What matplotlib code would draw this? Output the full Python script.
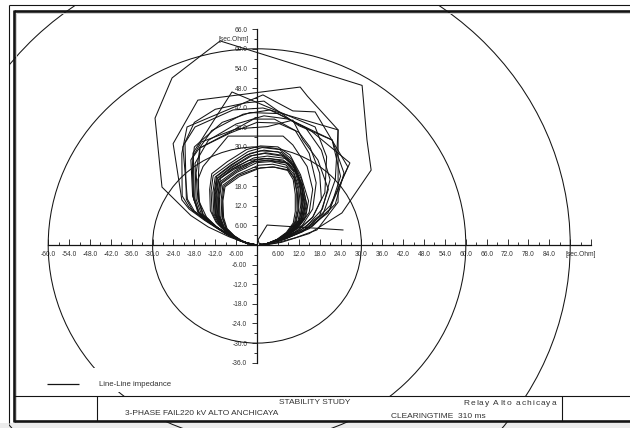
import matplotlib
matplotlib.use("Agg")
import matplotlib.pyplot as plt
import matplotlib.patches as mpatches
import matplotlib.transforms as mtransforms
from matplotlib.lines import Line2D
from matplotlib.font_manager import FontProperties, findfont

plt.rcParams['font.family'] = ['Liberation Sans', 'DejaVu Sans']

# ---------------------------------------------------------------- data
# R-X plane, secondary ohms
X_VIEW = (-73.85, 107.18)
Y_VIEW = (-55.96, 74.92)

circle_radii = [30, 60, 90]

x_major = [-60, -54, -48, -42, -36, -30, -24, -18, -12, -6,
           6, 12, 18, 24, 30, 36, 42, 48, 54, 60, 66, 72, 78, 84, 90, 96]
x_major_labels = ['-60.0', '-54.0', '-48.0', '-42.0', '-36.0', '-30.0', '-24.0',
                  '-18.0', '-12.0', '-6.00', '6.00', '12.0', '18.0', '24.0',
                  '30.0', '36.0', '42.0', '48.0', '54.0', '60.0', '66.0', '72.0',
                  '78.0', '84.0', '', '']
x_minor = [-57, -51, -45, -39, -33, -27, -21, -15, -9, -3, 3, 9, 15, 21, 27,
           33, 39, 45, 51, 57, 63, 69, 75, 81, 87, 93]
y_major = [-36, -30, -24, -18, -12, -6, 6, 12, 18, 24, 30, 36, 42, 48, 54, 60, 66]
y_major_labels = ['-36.0', '-30.0', '-24.0', '-18.0', '-12.0', '-6.00', '6.00',
                  '12.0', '18.0', '24.0', '30.0', '36.0', '42.0', '48.0', '54.0',
                  '60.0', '66.0']
y_minor = [-33, -27, -21, -15, -9, -3, 3, 9, 15, 21, 27, 33, 39, 45, 51, 57, 63]
unit_label = '[sec.Ohm]'

# impedance trajectories seen by the relay (R, X) during the swing
swing_outer = [(0, 0), (-3, 0.5), (-8, 2.5), (-14, 5.5), (-19, 9), (-27.3, 17.7),
               (-29.3, 38.8), (-24.4, 51.1), (-10.6, 62.4), (30.2, 48.8),
               (31.6, 32.1), (32.8, 22.9), (24.4, 9.8), (15, 3.5), (7, 0.8), (2, 0)]
swing_tail = [(24.7, 4.6), (2.9, 6.1), (0.3, 1.6), (0.6, 0.5), (3.5, 0.1)]

swing_m01 = [(0, 0), (-3, 0.6), (-7, 2.4), (-11, 5), (-14.5, 8.5), (-16.5, 13),
             (-17, 20), (-15.5, 24), (-8.3, 33.3), (7.5, 33.3), (10.3, 30.6),
             (14.4, 24), (16, 17), (15, 10), (12, 5.5), (8, 2.5), (4, 0.7), (1, 0)]
swing_m02 = [(0, 0), (-3, 0.6), (-7.5, 2.6), (-12, 5.5), (-15.5, 9), (-17, 14),
             (-17.5, 22), (-16.4, 29.7), (-7.8, 34.5), (-1, 38.5), (5, 38.5),
             (11, 35), (15, 28), (17, 19), (16, 11), (13, 6), (8.5, 2.8), (4, 0.7), (1, 0)]
swing_m03 = [(0, 0), (-3.2, 0.7), (-8, 3), (-13, 6.5), (-17, 10), (-18.4, 15),
             (-18.4, 28.1), (-7.2, 46.8), (16.7, 36.1), (20, 27), (19.5, 16),
             (16, 8.5), (11, 4), (5.5, 1.2), (1.5, 0.1)]
swing_m04 = [(0, 0), (-3.5, 0.8), (-9, 3.4), (-15, 7.5), (-19.5, 11), (-21.6, 13.8),
             (-24.1, 31), (-17, 44.3), (12.4, 48.3), (14.5, 45.5), (23.3, 35.2),
             (23.3, 13.1), (17.2, 4.6), (11, 2.2), (5, 0.5), (1, 0)]
swing_m05 = [(0, 0), (-3.3, 0.7), (-8.5, 3.2), (-14, 7), (-18.5, 10.5), (-20.3, 14),
             (-20.7, 31.2), (-17.8, 36.1), (-6.9, 41.3), (1.7, 41.9), (23.3, 35.2),
             (22.5, 20), (19, 9.5), (13, 4.2), (7, 1.6), (2, 0.1)]
swing_m06 = [(0, 0), (-3.4, 0.8), (-9, 3.5), (-15, 7.8), (-19.5, 11.5), (-21.5, 15),
             (-21.6, 28), (-20.1, 36.1), (1.7, 45.9), (10.3, 41), (16.7, 40.7),
             (26.1, 23.9), (20.4, 9.8), (13, 4), (6, 1), (1.5, 0)]
swing_m07 = [(0, 0), (-3, 0.6), (-7.5, 2.7), (-12, 5.8), (-15.5, 9.5), (-16.8, 14),
             (-16.8, 22), (-16.4, 29.7), (-7.8, 34.2), (0, 37.5), (6, 37.3),
             (12, 34.5), (15.2, 30), (18, 22), (18.5, 14), (16, 8.5), (12, 4.6),
             (7, 1.8), (2.5, 0.2)]
swing_m08 = [(0, 0), (-3.3, 0.7), (-8.3, 3.1), (-13.5, 6.8), (-18, 10.4), (-20, 14),
             (-21.3, 30), (-18, 37.5), (-12, 41.5), (-3, 43.5), (2, 44), (12, 36.5),
             (21.6, 32.1), (24, 21), (21, 11), (15, 5), (8, 1.8), (2, 0.1)]
swing_m09 = [(0, 0), (-3.1, 0.6), (-7.8, 2.8), (-12.5, 6), (-16.5, 9.6), (-18.2, 14),
             (-18.6, 24), (-18, 30), (-10, 37.5), (-2, 40.5), (6, 40.2), (14, 35.8),
             (18.5, 29), (21, 20), (18.8, 11), (14, 5.5), (8, 2), (2.5, 0.2)]
swing_m10 = [(0, 0), (-3.2, 0.7), (-8.2, 3), (-13, 6.6), (-16.8, 10), (-18.5, 15),
             (-19, 26), (-16, 31.5), (-6, 35.5), (3, 36.2), (10.3, 38.2), (13.2, 32.1),
             (17.5, 26), (20.5, 17), (18, 9), (12.5, 4.5), (6.5, 1.5), (1.8, 0.1)]
swing_m11 = [(0, 0), (-3, 0.6), (-7.6, 2.7), (-12.2, 5.9), (-16, 9.5), (-17.5, 14),
             (-17.8, 25), (-14, 32), (-6, 37), (2, 39.5), (9, 38.5), (15.2, 35.2),
             (26.7, 25.1), (21, 12), (14.5, 5.2), (8, 1.9), (2.2, 0.1)]
swing_m12 = [(0, 0), (-3.1, 0.7), (-8, 2.9), (-12.8, 6.3), (-16.6, 9.8), (-18, 14.5),
             (-18.3, 27), (-13, 35), (-4, 40), (3.7, 41.3), (21.6, 32.1), (25, 22),
             (22.5, 12.5), (16, 5.8), (8.5, 2), (2.3, 0.1)]

swing_i01 = [(0, 0), (-2.6, 0.4), (-5.6, 1.6), (-8.6, 3.7), (-11.4, 6.6), (-12.9, 10),
             (-13.2, 16.5), (-12.6, 21.2), (-8, 24.8), (-2.5, 28.6), (1.5, 29.8),
             (6.5, 29.2), (10, 26.2), (12.8, 20), (14.2, 12.5), (13.4, 8.2),
             (10.8, 4.8), (7.2, 2.2), (3.6, 0.6), (1, 0)]
swing_i02 = [(0, 0), (-2.5, 0.4), (-5.4, 1.5), (-8.3, 3.5), (-11, 6.3), (-12.4, 9.6),
             (-12.7, 16), (-12, 20.8), (-7.5, 24.5), (-2, 28), (2, 29), (7, 28.3),
             (10.3, 25.3), (12.5, 19.5), (13.6, 12.5), (12.8, 8), (10.3, 4.6),
             (6.9, 2.1), (3.4, 0.6), (0.9, 0)]
swing_i03 = [(0, 0), (-2.4, 0.4), (-5.2, 1.5), (-8, 3.4), (-10.6, 6.1), (-11.9, 9.4),
             (-12.2, 15.5), (-11.5, 20.2), (-7, 23.8), (-1.5, 27.3), (2.5, 28.2),
             (7.5, 27.4), (10.5, 24.3), (12.3, 18.8), (13, 12), (12.2, 7.8),
             (9.8, 4.5), (6.6, 2), (3.3, 0.5), (0.9, 0)]
swing_i04 = [(0, 0), (-2.3, 0.4), (-5, 1.4), (-7.7, 3.2), (-10.2, 5.8), (-11.5, 9.2),
             (-11.8, 15), (-11.2, 19.8), (-6.8, 23.4), (-1, 26.6), (3, 27.2),
             (8, 26.5), (11, 23.5), (12.8, 18), (13.8, 11.5), (13, 7.5), (10.4, 4.3),
             (7, 1.9), (3.5, 0.5), (1, 0)]
swing_i05 = [(0, 0), (-2.2, 0.4), (-4.8, 1.4), (-7.4, 3.1), (-9.8, 5.6), (-11.1, 9),
             (-11.3, 14.5), (-10.7, 19.3), (-6.2, 22.8), (-0.5, 26), (3.5, 26.5),
             (8, 25.5), (10.5, 22.5), (12, 17.5), (12.5, 11.5), (11.8, 7.4),
             (9.5, 4.2), (6.4, 1.9), (3.2, 0.5), (0.9, 0)]
swing_i06 = [(0, 0), (-2.1, 0.3), (-4.6, 1.3), (-7.1, 3), (-9.4, 5.4), (-10.6, 8.8),
             (-10.8, 14), (-10.2, 18.8), (-5.8, 22.2), (0, 25.2), (4, 25.5),
             (8.3, 24.5), (10.6, 21.6), (11.8, 17), (12, 11), (11.3, 7.1), (9.1, 4),
             (6.1, 1.8), (3, 0.5), (0.8, 0)]
swing_i07 = [(0, 0), (-2.2, 0.4), (-4.7, 1.4), (-7.3, 3.1), (-9.6, 5.6), (-10.9, 9),
             (-11.2, 15.5), (-10.5, 20.5), (-6.5, 23.2), (-1.5, 25.5), (3, 25.8),
             (9, 25), (11.5, 21.8), (13, 17), (13.3, 11), (12.5, 7.2), (10, 4.1),
             (6.7, 1.8), (3.3, 0.5), (0.9, 0)]
swing_i08 = [(0, 0), (-2, 0.3), (-4.4, 1.3), (-6.8, 2.9), (-9, 5.2), (-10.1, 8.6),
             (-10.3, 13.8), (-9.8, 18.3), (-5.5, 21.6), (0.5, 24.4), (4.5, 24.7),
             (8.6, 23.7), (10.6, 20.8), (11.4, 16.2), (11.5, 10.6), (10.8, 6.9),
             (8.7, 3.9), (5.9, 1.7), (2.9, 0.4), (0.8, 0)]
swing_i09 = [(0, 0), (-1.9, 0.3), (-4.2, 1.2), (-6.5, 2.8), (-8.6, 5), (-9.6, 8.4),
             (-9.8, 13.5), (-9.2, 17.8), (-5, 21), (1, 23.6), (5, 23.8), (8.8, 22.8),
             (10.4, 20), (11, 15.5), (11, 10.2), (10.4, 6.7), (8.4, 3.8), (5.7, 1.7),
             (2.8, 0.4), (0.8, 0)]
swing_i10 = [(0, 0), (-2.7, 0.5), (-5.8, 1.7), (-8.9, 3.9), (-11.8, 7), (-13.4, 10.5),
             (-13.6, 17), (-13, 21.8), (-8.5, 25.5), (-3, 29.2), (1, 30.3), (6, 30),
             (9.5, 27.5), (12.5, 21.5), (14.8, 13.5), (14, 8.6), (11.3, 5), (7.5, 2.3),
             (3.8, 0.6), (1, 0)]
swing_i11 = [(0, 0), (-2.3, 0.4), (-4.9, 1.4), (-7.6, 3.2), (-10, 5.8), (-11.3, 9.2),
             (-11.6, 15), (-11, 20), (-7.2, 23.2), (-2.5, 25.8), (2, 26.5), (7.5, 26),
             (10.8, 23.4), (13, 18.5), (14.4, 12), (13.6, 7.8), (10.9, 4.5), (7.3, 2),
             (3.6, 0.5), (1, 0)]
swing_i12 = [(0, 0), (-1.9, 0.3), (-4.3, 1.2), (-6.6, 2.8), (-8.8, 5.1), (-9.9, 8.5),
             (-10, 13.6), (-9.5, 18), (-5.4, 21.3), (0, 23.4), (4.5, 23.9), (9, 23),
             (10.8, 20.2), (11.6, 15.8), (11.8, 10.4), (11, 6.8), (8.8, 3.9), (6, 1.7),
             (3, 0.4), (0.8, 0)]
swing_i13 = [(0, 0), (-2.5, 0.4), (-5.3, 1.5), (-8.2, 3.5), (-10.8, 6.2), (-12.1, 9.5),
             (-12.3, 16.2), (-11.6, 21), (-7.8, 24), (-3, 27.5), (1, 28.8), (6, 28.5),
             (9.6, 25.8), (12, 20.5), (13.2, 13), (12.6, 8.2), (10.1, 4.6), (6.8, 2.1),
             (3.4, 0.5), (0.9, 0)]
swing_i14 = [(0, 0), (-2.2, 0.35), (-4.7, 1.35), (-7.2, 3.05), (-9.6, 5.5), (-10.9, 8.9),
             (-11, 14.2), (-10.4, 19), (-6, 22.5), (-0.8, 25.4), (3.2, 26), (8.5, 25.2),
             (11, 22.2), (12.4, 17.3), (12.9, 11.3), (12.1, 7.3), (9.7, 4.2), (6.5, 1.9),
             (3.2, 0.5), (0.9, 0)]
swing_i15 = [(0, 0), (-2.4, 0.4), (-5.1, 1.45), (-7.9, 3.3), (-10.4, 6), (-11.7, 9.3),
             (-12, 15.2), (-11.4, 20.5), (-7.4, 23.8), (-2.2, 27.2), (2.2, 28),
             (7.2, 27.2), (10.6, 24.5), (12.6, 19.2), (13.9, 12.6), (13.1, 8.1),
             (10.5, 4.6), (7, 2.1), (3.5, 0.55), (1, 0)]

trajectories = [swing_outer, swing_tail,
                swing_m01, swing_m02, swing_m03, swing_m04, swing_m05, swing_m06,
                swing_m07, swing_m08, swing_m09, swing_m10, swing_m11, swing_m12,
                swing_i01, swing_i02, swing_i03, swing_i04, swing_i05, swing_i06,
                swing_i07, swing_i08, swing_i09, swing_i10, swing_i11, swing_i12,
                swing_i13, swing_i14, swing_i15]

legend_label = 'Line-Line impedance'
title_text = 'STABILITY STUDY'
case_text = '3-PHASE FAIL220 kV ALTO ANCHICAYA'
relay_text = 'Relay Alto achicaya'
clearing_text = 'CLEARINGTIME  310 ms'

# ---------------------------------------------------------------- figure
W, H = 630, 428
fig = plt.figure(figsize=(W / 100, H / 100), dpi=100, facecolor='white')
ax = fig.add_axes([0, 0, 1, 1])
ax.set_xlim(*X_VIEW)
ax.set_ylim(*Y_VIEW)
ax.patch.set_visible(False)

# page coordinates: pixels from the top-left corner
page = mtransforms.Affine2D().scale(1 / W, -1 / H).translate(0, 1) + fig.transFigure
INK = '#141414'
TXT = '#333333'

# crossing axes through the origin
for side in ('top', 'right'):
    ax.spines[side].set_visible(False)
ax.spines['left'].set_position(('data', 0))
ax.spines['bottom'].set_position(('data', 0))
ax.spines['bottom'].set_bounds(-60, 96)
ax.spines['left'].set_bounds(-36, 66)
for side in ('left', 'bottom'):
    ax.spines[side].set_linewidth(0.9)
    ax.spines[side].set_color(INK)

ax.set_xticks(x_major, labels=x_major_labels)
ax.set_xticks(x_minor, labels=[unit_label if v == 93 else '' for v in x_minor], minor=True)
ax.set_yticks(y_major, labels=y_major_labels)
ax.set_yticks(y_minor, labels=[unit_label if v == 63 else '' for v in y_minor], minor=True)
ax.tick_params(axis='x', which='both', direction='in', width=0.6, color=INK,
               labelsize=4.8, labelcolor=TXT, pad=4.5)
ax.tick_params(axis='x', which='major', length=4)
ax.tick_params(axis='x', which='minor', length=2.5)
ax.tick_params(axis='y', which='both', direction='out', width=0.6, color=INK,
               labelsize=4.8, labelcolor=TXT, pad=3.5)
ax.tick_params(axis='y', which='major', length=3.5)
ax.tick_params(axis='y', which='minor', length=2.2)

# bottom strip of the page
ax.add_patch(mpatches.Rectangle((0, 423.5), W, 6, transform=page,
                                facecolor='#ececec', edgecolor='none', zorder=0.5))

# relay characteristic circles, drawn over the whole sheet
sheet = mpatches.Rectangle((8.5, 5.5), W, H, transform=page)
for r in circle_radii:
    c = mpatches.Circle((0, 0), r, fill=False, edgecolor=INK, linewidth=0.75, zorder=2)
    ax.add_patch(c)
    c.set_clip_path(sheet)

# trajectories
for traj in trajectories:
    xs = [p[0] for p in traj]
    ys = [p[1] for p in traj]
    ax.plot(xs, ys, color=INK, linewidth=0.75, zorder=2.2, solid_joinstyle='miter')


# frame
def page_line(xs, ys, lw, color=INK, z=5):
    ax.add_line(Line2D(xs, ys, transform=page, color=color, linewidth=lw,
                       zorder=z, clip_on=False, solid_capstyle='butt'))


page_line([8.5, W], [5.5, 5.5], 0.8)
page_line([8.5, 8.5], [5.5, 423.5], 0.8)
page_line([14, W], [11.3, 11.3], 1.9)
page_line([14, 14], [10.3, 422.2], 1.9)
page_line([14, W], [421.3, 421.3], 1.9)
page_line([16, W], [13.5, 13.5], 0.7, color='#d0d0d0', z=4.9)
page_line([16, 16], [13.5, 420], 0.7, color='#d0d0d0', z=4.9)

# legend area
ax.add_patch(mpatches.Rectangle((15, 368), 280, 24, transform=page,
                                facecolor='white', edgecolor='none', zorder=3))
page_line([47, 79], [384.5, 384.5], 0.9)
ax.text(99, 385, legend_label, transform=page, fontsize=5.6, color=TXT,
        ha='left', va='center', zorder=6)

# title block
ax.add_patch(mpatches.Rectangle((15, 395.7), W - 15, 25.6, transform=page,
                                facecolor='white', edgecolor='none', zorder=3))
page_line([14, W], [395.7, 395.7], 0.8)
page_line([97, 97], [395.7, 421.3], 0.8)
page_line([562, 562], [395.7, 421.3], 0.8)

ax.text(315, 402.3, title_text, transform=page, fontsize=6, color=TXT,
        ha='center', va='center', zorder=6)
ax.text(125, 414, case_text, transform=page, fontsize=6, color=TXT,
        ha='left', va='center', zorder=6)
ax.text(391, 416.3, clearing_text, transform=page, fontsize=6, color=TXT,
        ha='left', va='center', zorder=6)


def tracked_text(s, x, y, size_pt, track):
    """Left-aligned text with extra letter spacing (track in page pixels)."""
    prop = FontProperties(family='Liberation Sans')
    try:
        from matplotlib.ft2font import FT2Font
        font = FT2Font(findfont(prop))
        font.set_size(size_pt, 100)

        def adv(ch):
            return font.load_char(ord(ch)).linearHoriAdvance / 65536
    except Exception:
        def adv(ch):
            return 0.5 * size_pt * 100 / 72
    cx = x
    for ch in s:
        if ch != ' ':
            ax.text(cx, y, ch, transform=page, fontsize=size_pt, color=TXT,
                    ha='left', va='baseline', zorder=6)
        cx += adv(ch) + track


tracked_text(relay_text, 463, 404.6, 6, 1.1)

fig.savefig('out.png', dpi=100, facecolor='white')
